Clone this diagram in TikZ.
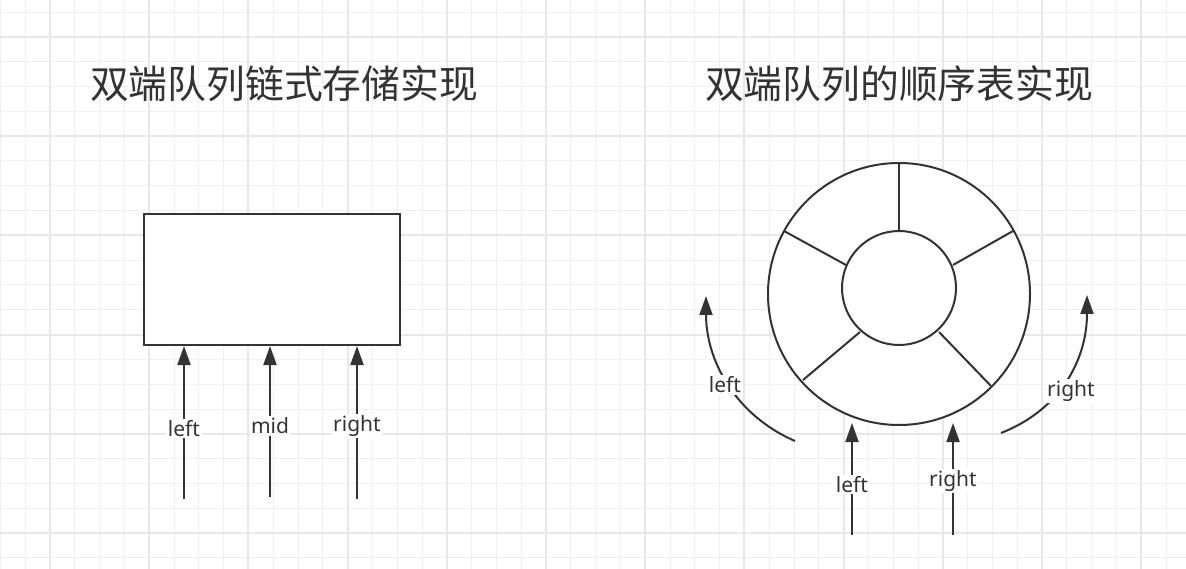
\documentclass[tikz,border=0pt]{standalone}
\usepackage{fontspec}
\setmainfont{Noto Sans}
\newfontfamily\cjk{Noto Sans CJK SC}
\usetikzlibrary{arrows.meta}
\definecolor{ink}{HTML}{333333}
\definecolor{gridminor}{HTML}{F0F0F0}
\definecolor{gridmajor}{HTML}{E8E8E8}
\begin{document}
\begin{tikzpicture}[x=1pt,y=-1pt,
  title/.style={font=\cjk\fontsize{38.8}{40}\selectfont, text=ink, inner sep=0pt, anchor=base},
  lbl/.style={font=\fontsize{21}{21}\selectfont, text=ink, fill=white, inner sep=1.5pt},
  shapebox/.style={draw=ink, line width=2pt, fill=white, inner sep=0pt},
  spoke/.style={draw=ink, line width=2pt},
  conn/.style={draw=ink, line width=2pt, -{Triangle[length=19pt,width=13pt]}},
]
\fill[white] (0,0) rectangle (1186,569);
\useasboundingbox (0,0) rectangle (1186,569);
% grid
\foreach \i in {0,...,47} \draw[gridminor, line width=1pt] (0.5+24.8*\i,0) -- (0.5+24.8*\i,569);
\foreach \j in {0,...,22} \draw[gridminor, line width=1pt] (0,12.2+24.8*\j) -- (1186,12.2+24.8*\j);
\foreach \i in {0,...,11} \draw[gridmajor, line width=2pt] (50+99.2*\i,0) -- (50+99.2*\i,569);
\foreach \j in {0,...,5} \draw[gridmajor, line width=2pt] (0,37+99.2*\j) -- (1186,37+99.2*\j);

% titles
\node[title] (t1) at (284,99) {双端队列链式存储实现};
\node[title] (t2) at (899,99) {双端队列的顺序表实现};

% linked-list box
\node[shapebox, minimum width=256pt, minimum height=131pt] (chain) at (272,279.5) {};
\coordinate (a1) at (184,499);
\coordinate (a2) at (270,497);
\coordinate (a3) at (357,499);
\draw[conn] (a1) -- (a1 |- chain.south) node[lbl, pos=0.46] {left};
\draw[conn] (a2) -- (a2 |- chain.south) node[lbl, pos=0.47] {mid};
\draw[conn] (a3) -- (a3 |- chain.south) node[lbl, pos=0.48] {right};

% ring
\node[shapebox, circle, minimum size=262pt] (outer) at (899,294) {};
\draw[spoke] (899,164) -- (899,240);
\draw[spoke] (1013,231) -- (953,265);
\draw[spoke] (784,231) -- (846,265);
\draw[spoke] (803,380) -- (860,332);
\draw[spoke] (991,386) -- (939,332);
\node[shapebox, circle, minimum size=114pt] (inner) at (899,288) {};

% bottom straight arrows
\coordinate (b1) at (852,535);
\coordinate (b1t) at (852,423);
\coordinate (b2) at (953,535);
\coordinate (b2t) at (953,423);
\draw[conn] (b1) -- (b1t) node[lbl, pos=0.45] {left};
\draw[conn] (b2) -- (b2t) node[lbl, pos=0.48] {right};

% curved arrows
\coordinate (c1) at (795,441);
\coordinate (c1t) at (706,296);
\coordinate (c2) at (1001,433);
\coordinate (c2t) at (1087,295);
\draw[conn] (c1) .. controls (735,415) and (706,360) .. (c1t);
\draw[conn] (c2) .. controls (1060,410) and (1087,360) .. (c2t);
\node[lbl] (cl) at (725,385) {left};
\node[lbl] (cr) at (1071,391) {right};
\end{tikzpicture}
\end{document}
